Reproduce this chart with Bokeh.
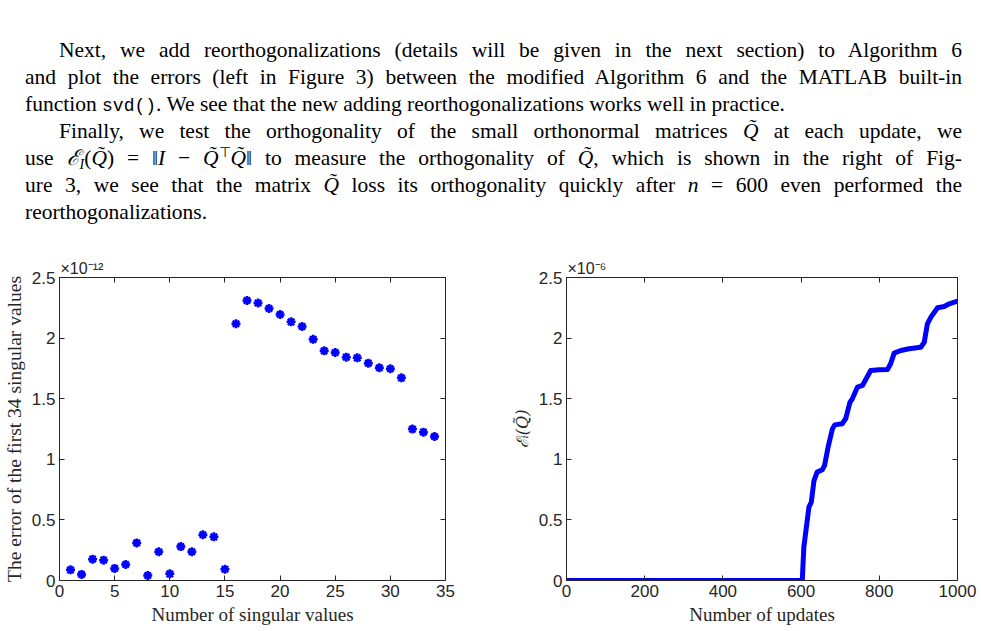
from bokeh.plotting import figure
from bokeh.models import (Div, LinearAxis, FixedTicker, CustomJSTickFormatter,
                          Range1d, ColumnDataSource)
from bokeh.layouts import column, row
from bokeh.embed import file_html
from bokeh.resources import INLINE

# ---------------- data ----------------
# left panel: error of the first 34 singular values (units of 1e-12)
sv_index = list(range(1, 35))
sv_error = [0.088, 0.050, 0.176, 0.168, 0.100, 0.132, 0.310, 0.041, 0.237, 0.055,
            0.280, 0.237, 0.377, 0.360, 0.093,
            2.118, 2.310, 2.290, 2.244, 2.195, 2.134, 2.096, 1.990, 1.895, 1.881,
            1.843, 1.837, 1.793, 1.755, 1.747, 1.672, 1.249, 1.224, 1.188]
left_exponent = "×10⁻¹²"
left_xticks = [0, 5, 10, 15, 20, 25, 30, 35]

# right panel: orthogonality E_I(Q~) per update (units of 1e-6)
updates = [1, 603, 607, 620, 626, 633, 641, 654, 660, 669, 680, 686, 705, 714, 725,
           731, 744, 757, 778, 800, 821, 829, 838, 855, 876, 906, 915, 923, 932, 949,
           966, 979, 1000]
orth = [0, 0, 0.275, 0.605, 0.646, 0.825, 0.894, 0.913, 0.949, 1.100, 1.250, 1.284,
        1.293, 1.334, 1.471, 1.499, 1.595, 1.609, 1.733, 1.738, 1.741, 1.788, 1.876,
        1.898, 1.912, 1.925, 1.966, 2.118, 2.173, 2.250, 2.261, 2.283, 2.305]
right_exponent = "×10⁻⁶"
right_xticks = [0, 200, 400, 600, 800, 1000]

y_ticks = [0, 0.5, 1, 1.5, 2, 2.5]

AX = "#262626"
BLUE = "#0000ff"
SANS = "Liberation Sans"
SERIF = "Liberation Serif"

fmt_code = "return String(Math.round(tick*100)/100)"


def style_axis(ax, ticks, show_labels=True):
    ax.ticker = FixedTicker(ticks=ticks)
    ax.formatter = CustomJSTickFormatter(code=fmt_code if show_labels else 'return ""')
    ax.axis_line_color = AX
    ax.axis_line_width = 1
    ax.major_tick_line_color = AX
    ax.major_tick_in = 5
    ax.major_tick_out = 0
    ax.minor_tick_line_color = None
    ax.major_label_text_font = SANS
    ax.major_label_text_color = AX
    ax.major_label_text_font_size = "17px"
    ax.major_label_standoff = 4 if show_labels else 0


def make_fig(width, bleft, bright, xmax, xticks, xlabel, ylabel, ylabel_size, exponent):
    p = figure(width=width, height=391, x_range=Range1d(0, xmax), y_range=Range1d(0, 2.5),
               output_backend="svg", toolbar_location=None,
               min_border_left=bleft, min_border_right=bright,
               min_border_top=37, min_border_bottom=51)
    p.xgrid.visible = False
    p.ygrid.visible = False
    p.outline_line_color = AX
    p.outline_line_alpha = 1
    p.background_fill_color = "white"
    p.border_fill_color = "white"
    style_axis(p.xaxis[0], xticks)
    style_axis(p.yaxis[0], y_ticks)
    for ax in (p.xaxis[0], p.yaxis[0]):
        ax.axis_label_text_font = SERIF
        ax.axis_label_text_font_style = "normal"
        ax.axis_label_text_color = AX
        ax.axis_label_standoff = 4
    p.xaxis[0].axis_label = xlabel
    p.xaxis[0].axis_label_text_font_size = "19px"
    p.yaxis[0].axis_label = ylabel
    p.yaxis[0].axis_label_text_font_size = ylabel_size
    top = LinearAxis()
    style_axis(top, xticks, show_labels=False)
    p.add_layout(top, "above")
    rgt = LinearAxis()
    style_axis(rgt, y_ticks, show_labels=False)
    p.add_layout(rgt, "right")
    # exponent marker above the top-left corner (MATLAB style)
    p.title.text = exponent
    p.title.align = "left"
    p.title.offset = 1
    p.title.standoff = 2
    p.title.text_font = SANS
    p.title.text_font_style = "normal"
    p.title.text_font_size = "16px"
    p.title.text_color = AX
    return p


# left figure
p1 = make_fig(490, 55, 45, 35, left_xticks, "Number of singular values",
              "The error of the first 34 singular values", "19.5px", left_exponent)
src1 = ColumnDataSource(dict(x=sv_index, y=sv_error))
p1.scatter("x", "y", source=src1, marker="asterisk", size=9, line_width=2.5,
           line_color=BLUE)

# right figure
p2 = make_fig(491, 76, 24, 1000, right_xticks, "Number of updates",
              "ℰᵢ(Q̃)", "16px", right_exponent)
p2.yaxis[0].axis_label_text_font = "DejaVu Serif"
p2.yaxis[0].axis_label_text_font_style = "italic"
src2 = ColumnDataSource(dict(x=updates, y=orth))
p2.line("x", "y", source=src2, line_width=5, line_color=BLUE, line_join="round")

# ---------------- text block ----------------
SUB = '<span style="font-size:14px;vertical-align:-4px;line-height:0">{}</span>'
SUP = '<span style="font-size:14px;vertical-align:8px;line-height:0">{}</span>'
Q = "<i>Q&#771;</i>"
lines = [
    (True, True, "Next, we add reorthogonalizations (details will be given in the next section) to Algorithm 6"),
    (False, True, "and plot the errors (left in Figure 3) between the modified Algorithm 6 and the MATLAB built-in"),
    (False, False, 'function <span style="font-family:\'Liberation Mono\';font-size:18px">svd()</span>. '
                   "We see that the new adding reorthogonalizations works well in practice."),
    (True, True, f"Finally, we test the orthogonality of the small orthonormal matrices {Q} at each update, we"),
    (False, True, "use <i>ℰ</i>" + SUB.format("<i>I</i>") + f"({Q}) = ‖<i>I</i> − {Q}" + SUP.format("⊤")
                  + f"{Q}‖ to measure the orthogonality of {Q}, which is shown in the right of Fig-"),
    (False, True, f"ure 3, we see that the matrix {Q} loss its orthogonality quickly after <i>n</i> = 600 even performed the"),
    (False, False, "reorthogonalizations."),
]
html_lines = []
for indent, just, txt in lines:
    pad = 34 if indent else 0
    last = "justify" if just else "left"
    html_lines.append(
        f'<div style="height:27px;line-height:27px;padding-left:{pad}px;white-space:normal;'
        f'text-align:justify;text-align-last:{last};box-sizing:border-box;width:937px">{txt}</div>')
html = ('<div style="font-family:\'Liberation Serif\';font-size:21.5px;color:#000;'
        'padding-top:37px;padding-left:25px;margin:0">' + "".join(html_lines) + "</div>")
div = Div(text=html, width=981, height=240, margin=0)

p1.margin = 0
p2.margin = 0
layout = column(div, row(p1, p2, margin=0, spacing=0), margin=0, spacing=0)

open("out.html", "w").write(file_html(layout, INLINE))
